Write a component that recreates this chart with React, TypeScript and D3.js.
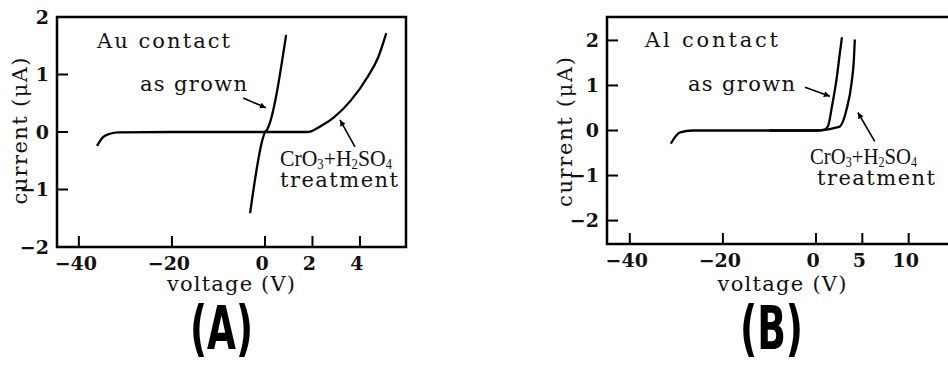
import React, { useEffect, useRef } from "react";
import * as d3 from "d3";

// tick values
const xTicksA = [-40, -20, 0, 2, 4];
const yTicksA = [-2, -1, 0, 1, 2];
const xTicksB = [-40, -20, 0, 5, 10];
const yTicksB = [-2, -1, 0, 1, 2];

// [voltage (V), current (uA)]
const asGrownA: [number, number][] = [
  [-3.2, -1.41], [-0.5, -0.12], [-0.1, -0.02], [0.1, 0.05], [0.89, 1.69],
];
const treatedA: [number, number][] = [
  [-36.1, -0.24], [-34.8, -0.09], [-33.3, -0.03], [-31.6, -0.005], [-20, 0],
  [0, 0], [1.79, 0.0], [2.34, 0.1], [2.89, 0.25], [3.62, 0.55],
  [4.34, 0.97], [4.77, 1.3], [5.11, 1.72],
];
const asGrownB: [number, number][] = [
  [-10, 0], [0, 0], [0.9, 0.02], [1.3, 0.1], [1.72, 0.53], [2.26, 1.2],
  [2.58, 1.73], [2.8, 2.07],
];
const treatedB: [number, number][] = [
  [-31.2, -0.29], [-29.2, -0.04], [-26.5, 0], [0, 0], [1.18, 0.02],
  [2.26, 0.07], [2.58, 0.09], [3.3, 0.47], [3.84, 1.06], [4.09, 1.58],
  [4.19, 2.02],
];

// arrows: [from, to] in data units
const arrowsA: [number, number][][] = [
  [[-4.7, 0.59], [0.04, 0.42]],
  [[3.79, -0.26], [3.16, 0.21]],
];
const arrowsB: [number, number][][] = [
  [[-2.37, 0.96], [1.5, 0.76]],
  [[6.34, -0.24], [4.52, 0.4]],
];

const fmt = (d: number) => (d < 0 ? "\u2212" + Math.abs(d) : String(d));
const SERIF = "'DejaVu Serif', 'Liberation Serif', serif";

function drawPanel(svg, cfg) {
  const x = d3.scaleLinear().domain(cfg.xDomain).range(cfg.xRange);
  const y = d3.scaleLinear().domain(cfg.yDomain).range(cfg.yRange);
  const g = svg.append("g");
  const [x0, x1] = [cfg.xRange[0], cfg.xRange[cfg.xRange.length - 1]];
  const [y0, y1] = cfg.yRange;

  g.append("rect")
    .attr("x", x0).attr("y", y1)
    .attr("width", x1 - x0).attr("height", y0 - y1)
    .attr("fill", "none").attr("stroke", "#000").attr("stroke-width", 2.5);

  const tickFont = (s) =>
    s.style("font-family", SERIF)
      .style("font-size", "19px")
      .style("font-weight", "bold")
      .attr("fill", "#111");

  cfg.xTicks.forEach((t) => {
    g.append("line")
      .attr("x1", x(t)).attr("x2", x(t))
      .attr("y1", y0).attr("y2", y0 - 11)
      .attr("stroke", "#000").attr("stroke-width", 2);
    g.append("text")
      .attr("x", x(t) - 3).attr("y", y0 + 23)
      .attr("text-anchor", "middle")
      .call(tickFont)
      .text(fmt(t));
  });

  cfg.yTicks.forEach((t) => {
    g.append("line")
      .attr("x1", x0).attr("x2", x0 + 11)
      .attr("y1", y(t)).attr("y2", y(t))
      .attr("stroke", "#000").attr("stroke-width", 2);
    g.append("text")
      .attr("x", x0 - 8).attr("y", y(t))
      .attr("dy", "0.36em")
      .attr("text-anchor", "end")
      .call(tickFont)
      .text(fmt(t));
  });

  const line = d3.line<[number, number]>()
    .x((d) => x(d[0]))
    .y((d) => y(d[1]))
    .curve(d3.curveMonotoneX);

  cfg.series.forEach((s) => {
    g.append("path")
      .datum(s)
      .attr("fill", "none")
      .attr("stroke", "#000")
      .attr("stroke-width", 2.3)
      .attr("d", line);
  });

  cfg.arrows.forEach((a) => {
    g.append("line")
      .attr("x1", x(a[0][0])).attr("y1", y(a[0][1]))
      .attr("x2", x(a[1][0])).attr("y2", y(a[1][1]))
      .attr("stroke", "#000").attr("stroke-width", 1.6)
      .attr("marker-end", "url(#arrowhead)");
  });

  const labelFont = (s) =>
    s.style("font-family", SERIF)
      .style("font-size", "21px")
      .attr("fill", "#111")
      .attr("lengthAdjust", "spacing");

  cfg.labels.forEach((l) => {
    g.append("text")
      .attr("x", l.x).attr("y", l.y)
      .attr("textLength", l.w)
      .call(labelFont)
      .text(l.text);
  });

  // chemical formula
  const chem = g.append("text")
    .attr("x", cfg.chem.x).attr("y", cfg.chem.y)
    .attr("textLength", cfg.chem.w)
    .attr("lengthAdjust", "spacingAndGlyphs")
    .style("font-family", "'Liberation Serif', serif")
    .style("font-size", "24px")
    .attr("fill", "#111");
  [["CrO", 0], ["3", 1], ["+H", 0], ["2", 1], ["SO", 0], ["4", 1]].forEach(([txt, sub], i, arr) => {
    const prevSub = i > 0 ? arr[i - 1][1] : 0;
    const dy = sub && !prevSub ? 3 : !sub && prevSub ? -3 : 0;
    chem.append("tspan")
      .attr("dy", dy)
      .style("font-size", sub ? "14px" : "24px")
      .text(txt as string);
  });

  // axis titles
  g.append("text")
    .attr("x", cfg.xTitle.x).attr("y", cfg.xTitle.y)
    .attr("text-anchor", "middle")
    .attr("textLength", cfg.xTitle.w)
    .call(labelFont)
    .text("voltage (V)");

  g.append("text")
    .attr("transform", `translate(${cfg.yTitle.x},${cfg.yTitle.y}) rotate(-90)`)
    .attr("text-anchor", "middle")
    .attr("textLength", cfg.yTitle.w)
    .call(labelFont)
    .text("current (\u03bcA)");

  g.append("text")
    .attr("x", cfg.tag.x).attr("y", 349)
    .attr("textLength", 63)
    .attr("lengthAdjust", "spacingAndGlyphs")
    .style("font-family", "'DejaVu Sans Condensed', 'DejaVu Sans', sans-serif")
    .style("font-weight", "bold")
    .style("font-size", "60px")
    .attr("fill", "#000")
    .text(cfg.tag.text);
}

export default function App() {
  const svgRef = useRef<SVGSVGElement>(null);

  useEffect(() => {
    const svg = d3.select(svgRef.current);
    svg.selectAll("*").remove();

    svg.append("defs").append("marker")
      .attr("id", "arrowhead")
      .attr("viewBox", "0 0 10 10")
      .attr("refX", 10).attr("refY", 5)
      .attr("markerUnits", "userSpaceOnUse")
      .attr("markerWidth", 11).attr("markerHeight", 6)
      .attr("orient", "auto")
      .append("path")
      .attr("d", "M0,0 L10,5 L0,10 z")
      .attr("fill", "#000");

    drawPanel(svg, {
      xDomain: [-44.7, 0, 5.94],
      xRange: [57, 265, 406],
      yDomain: [-2, 2],
      yRange: [247, 17],
      xTicks: xTicksA,
      yTicks: yTicksA,
      series: [asGrownA, treatedA],
      arrows: arrowsA,
      labels: [
        { text: "Au contact", x: 97, y: 48, w: 133 },
        { text: "as grown", x: 140, y: 91, w: 107 },
        { text: "treatment", x: 280, y: 187, w: 118 },
      ],
      chem: { x: 280, y: 166, w: 112 },
      xTitle: { x: 231, y: 291, w: 128 },
      yTitle: { x: 27, y: 131, w: 147 },
      tag: { text: "(A)", x: 190 },
    });

    drawPanel(svg, {
      xDomain: [-44.9, 0, 15],
      xRange: [607, 816, 955],
      yDomain: [-2.52, 2.52],
      yRange: [244, 17],
      xTicks: xTicksB,
      yTicks: yTicksB,
      series: [asGrownB, treatedB],
      arrows: arrowsB,
      labels: [
        { text: "Al contact", x: 645, y: 47, w: 133 },
        { text: "as grown", x: 688, y: 91, w: 107 },
        { text: "treatment", x: 817, y: 185, w: 118 },
      ],
      chem: { x: 810, y: 164, w: 107 },
      xTitle: { x: 782, y: 291, w: 129 },
      yTitle: { x: 572, y: 132, w: 150 },
      tag: { text: "(B)", x: 740 },
    });
  }, []);

  return (
    <svg
      ref={svgRef}
      width={948}
      height={365}
      style={{ position: "absolute", left: 0, top: 0, background: "#fff" }}
    />
  );
}
